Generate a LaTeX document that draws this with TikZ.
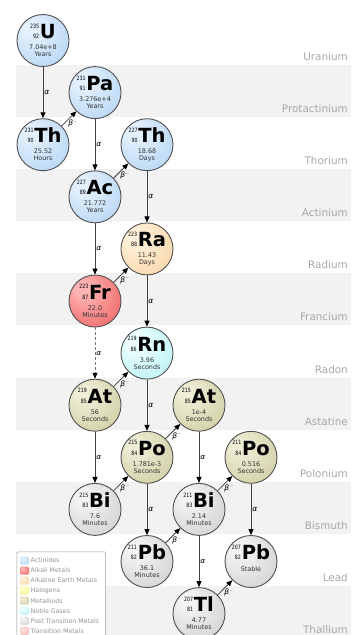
\documentclass[tikz,border=0pt]{standalone}
\usepackage{fontspec}
\setmainfont{DejaVu Sans}
\newfontfamily\numfont{DejaVu Sans}[FakeStretch=0.8]
\usetikzlibrary{arrows.meta}

\definecolor{bandgray}{HTML}{F2F2F2}
\definecolor{rowlblcol}{HTML}{A8A8A8}
\definecolor{edgeline}{HTML}{505050}
\definecolor{arrowline}{HTML}{404040}
% element families: highlight / rim colours
\definecolor{actIn}{HTML}{E4F1FD}\definecolor{actOut}{HTML}{A3C9F0}
\definecolor{alkIn}{HTML}{FFB4B4}\definecolor{alkOut}{HTML}{E84444}
\definecolor{aeIn}{HTML}{FFF1DC}\definecolor{aeOut}{HTML}{F6CB92}
\definecolor{halIn}{HTML}{FFFFC8}\definecolor{halOut}{HTML}{F2EE70}
\definecolor{metIn}{HTML}{EEEDD6}\definecolor{metOut}{HTML}{C3C18E}
\definecolor{nobIn}{HTML}{EEFFFF}\definecolor{nobOut}{HTML}{A4EDF2}
\definecolor{ptmIn}{HTML}{F4F4F4}\definecolor{ptmOut}{HTML}{C2C2C2}
\definecolor{trnIn}{HTML}{FFE0E0}\definecolor{trnOut}{HTML}{FFA8A8}

\colorlet{elin}{white}\colorlet{elout}{gray}
\pgfdeclareradialshading[elin,elout]{elemball}{\pgfpoint{-14bp}{14bp}}%
  {color(0bp)=(elin); color(6bp)=(elin); color(50bp)=(elout)}

% mass number over atomic number, bottom line on the symbol's baseline
\newcommand\nucl[2]{{\numfont\mdseries\fontsize{5.9}{10.4}\selectfont
  \vbox{\halign{\hfil##\cr#1\cr#2\cr}}}}

% name, column, row, family, symbol, A, Z, half-life, unit
\newcommand\isotope[9]{%
  \node[elem=#4] (#1) at ({43+52*#2},{40.5+52.1*#3}) {};
  \node[symtxt] (#1-sym) at ([yshift=2pt]#1.center) {\nucl{#6}{#7}\kern0.8pt#5};
  \node[hltxt] (#1-hl) at ([yshift=-9pt]#1.center) {#8};
  \node[hltxt] (#1-unit) at ([yshift=-16pt]#1.center) {#9};
}
\newcommand\betam{{\itshape β}\raisebox{2.6pt}{\fontsize{5}{5}\selectfont\color{black!45}−}}

\begin{document}
\begin{tikzpicture}[x=1pt,y=-1pt,
  elem/.style={circle, draw=edgeline, line width=0.9pt, minimum size=52pt,
    inner sep=0pt, /utils/exec={\colorlet{elin}{#1In}\colorlet{elout}{#1Out}},
    shading=elemball},
  swatch/.style={rectangle, rounded corners=1.5pt, minimum width=9pt,
    minimum height=8pt, inner sep=0pt,
    /utils/exec={\colorlet{elin}{#1In}\colorlet{elout}{#1Out}}, shading=elemball},
  symtxt/.style={anchor=base, inner sep=0pt, font=\fontsize{19.5}{20}\selectfont\bfseries},
  hltxt/.style={anchor=base, inner sep=0pt, text=black!80, font=\fontsize{6.4}{7}\selectfont},
  rowlbl/.style={anchor=base east, inner sep=0pt, text=rowlblcol, font=\fontsize{10.4}{12}\selectfont},
  legtxt/.style={anchor=west, inner sep=0pt, text=black!42, font=\fontsize{6.3}{7}\selectfont},
  decay/.style={draw=arrowline, line width=0.8pt,
    -{Triangle[length=6pt,width=5pt,color=black]}},
  alab/.style={anchor=west, inner sep=1pt, font=\fontsize{7.5}{8}\selectfont\itshape},
  blab/.style={anchor=north west, inner sep=0pt, xshift=-1pt, yshift=-1pt,
    font=\fontsize{7.5}{8}\selectfont},
]
\useasboundingbox[fill=white] (0,0) rectangle (351,635);

% alternating element bands
\foreach \i in {1,3,5,7,9,11}
  \fill[bandgray] (16,{12.8+52.1*\i}) rectangle (351,{12.8+52.1*(\i+1)});

% band titles
\foreach \lbl [count=\i from 0] in {Uranium,Protactinium,Thorium,Actinium,Radium,
    Francium,Radon,Astatine,Polonium,Bismuth,Lead,Thallium}
  \node[rowlbl] (row-\i) at (348,{12.8+52.1*\i+47.6}) {\lbl};

% legend
\node[draw=black!38, fill=white, rounded corners=1pt, line width=0.6pt,
  minimum width=88.5pt, minimum height=100pt, anchor=north west, inner sep=0pt]
  (legend) at (16.5,551.5) {};
\foreach \fam/\txt [count=\k from 0] in {act/Actinides, alk/Alkali Metals,
    ae/Alkaline Earth Metals, hal/Halogens, met/Metalloids, nob/Noble Gases,
    ptm/Post Transition Metals, trn/Transition Metals} {
  \node[swatch=\fam] (leg-sw-\k) at (24.5,{560.5+10.05*\k}) {};
  \node[legtxt] (leg-tx-\k) at (30.5,{560.5+10.05*\k}) {\txt};
}

% nuclides
\isotope{u}{0}{0}{act}{U}{235}{92}{7.04e+8}{Years}
\isotope{pa}{1}{1}{act}{Pa}{231}{91}{3.276e+4}{Years}
\isotope{tha}{0}{2}{act}{Th}{231}{90}{25.52}{Hours}
\isotope{thb}{2}{2}{act}{Th}{227}{90}{18.68}{Days}
\isotope{ac}{1}{3}{act}{Ac}{227}{89}{21.772}{Years}
\isotope{ra}{2}{4}{ae}{Ra}{223}{88}{11.43}{Days}
\isotope{fr}{1}{5}{alk}{Fr}{223}{87}{22.0}{Minutes}
\isotope{rn}{2}{6}{nob}{Rn}{219}{86}{3.96}{Seconds}
\isotope{ata}{1}{7}{met}{At}{219}{85}{56}{Seconds}
\isotope{atb}{3}{7}{met}{At}{215}{85}{1e-4}{Seconds}
\isotope{poa}{2}{8}{met}{Po}{215}{84}{1.781e-3}{Seconds}
\isotope{pob}{4}{8}{met}{Po}{211}{84}{0.516}{Seconds}
\isotope{bia}{1}{9}{ptm}{Bi}{215}{83}{7.6}{Minutes}
\isotope{bib}{3}{9}{ptm}{Bi}{211}{83}{2.14}{Minutes}
\isotope{pba}{2}{10}{ptm}{Pb}{211}{82}{36.1}{Minutes}
\isotope{tl}{3}{11}{ptm}{Tl}{207}{81}{4.77}{Minutes}
% the stable end of the chain
\node[elem=ptm] (pbb) at ({43+52*4},{40.5+52.1*10}) {};
\node[symtxt] (pbb-sym) at ([yshift=2pt]pbb.center) {\nucl{207}{82}\kern0.8pt Pb};
\node[hltxt] (pbb-hl) at ([yshift=-9.5pt]pbb.center) {Stable};

% alpha decays
\draw[decay] (u) -- node[alab] {α} (tha);
\draw[decay] (pa) -- node[alab] {α} (ac);
\draw[decay] (thb) -- node[alab] {α} (ra);
\draw[decay] (ac) -- node[alab] {α} (fr);
\draw[decay] (ra) -- node[alab] {α} (rn);
\draw[decay, draw=black!55, dash pattern=on 3pt off 2pt] (fr) -- node[alab] {α} (ata);
\draw[decay] (rn) -- node[alab] {α} (poa);
\draw[decay] (ata) -- node[alab] {α} (bia);
\draw[decay] (atb) -- node[alab] {α} (bib);
\draw[decay] (poa) -- node[alab] {α} (pba);
\draw[decay] (pob) -- node[alab] {α} (pbb);
\draw[decay] (bib) -- node[alab] {α} (tl);

% beta-minus decays
\draw[decay] (tha) -- node[blab] {\betam} (pa);
\draw[decay] (ac) -- node[blab] {\betam} (thb);
\draw[decay] (fr) -- node[blab] {\betam} (ra);
\draw[decay] (ata) -- node[blab] {\betam} (rn);
\draw[decay] (bia) -- node[blab] {\betam} (poa);
\draw[decay] (poa) -- node[blab] {\betam} (atb);
\draw[decay] (pba) -- node[blab] {\betam} (bib);
\draw[decay] (bib) -- node[blab] {\betam} (pob);
\draw[decay] (tl) -- node[blab] {\betam} (pbb);
\end{tikzpicture}
\end{document}
